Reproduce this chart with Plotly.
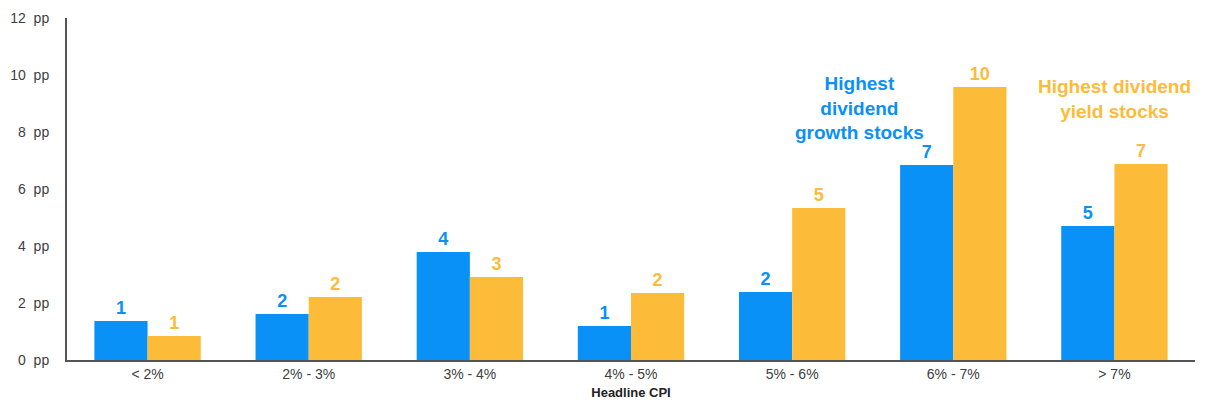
import plotly.graph_objects as go

categories = ["< 2%", "2% - 3%", "3% - 4%", "4% - 5%", "5% - 6%", "6% - 7%", "> 7%"]
growth = [1.37, 1.61, 3.79, 1.19, 2.39, 6.84, 4.70]
yield_ = [0.84, 2.21, 2.91, 2.35, 5.33, 9.58, 6.88]
y_ticks = [0, 2, 4, 6, 8, 10, 12]

BLUE = "#0A91F8"
ORANGE = "#FDBB3A"
FONT = "Arial, Liberation Sans, sans-serif"

fig = go.Figure()
fig.add_trace(go.Bar(x=categories, y=growth, marker_color=BLUE, marker_line_width=0,
                     text=[f"{v:.0f}" for v in growth], textposition="outside",
                     textfont=dict(color=BLUE, size=18, family=FONT, weight="bold"),
                     cliponaxis=False, name="Highest dividend growth stocks"))
fig.add_trace(go.Bar(x=categories, y=yield_, marker_color=ORANGE, marker_line_width=0,
                     text=[f"{v:.0f}" for v in yield_], textposition="outside",
                     textfont=dict(color=ORANGE, size=18, family=FONT, weight="bold"),
                     cliponaxis=False, name="Highest dividend yield stocks"))

fig.add_annotation(x=4.42, y=8.85, xref="x", yref="y", text="Highest<br>dividend<br>growth stocks",
                   showarrow=False, font=dict(color=BLUE, size=19, family=FONT, weight="bold"),
                   align="center", yanchor="middle")
fig.add_annotation(x=6.0, y=9.15, xref="x", yref="y", text="Highest dividend<br>yield stocks",
                   showarrow=False, font=dict(color=ORANGE, size=19, family=FONT, weight="bold"),
                   align="center", yanchor="middle")

fig.update_layout(
    width=1207, height=403,
    margin=dict(l=67, r=12, t=18, b=43, autoexpand=False),
    paper_bgcolor="white", plot_bgcolor="white",
    barmode="group", bargap=0.34, bargroupgap=0,
    showlegend=False,
    font=dict(family=FONT, color="#404040"),
)
fig.update_xaxes(showline=True, linecolor="#555555", linewidth=2, ticks="", automargin=False,
                 tickfont=dict(size=14, color="#404040"),
                 title=dict(text="<b>Headline CPI</b>", font=dict(size=13, color="#222222"), standoff=7))
fig.update_yaxes(range=[0, 12], tickvals=y_ticks, ticktext=[f"{t}  pp" for t in y_ticks],
                 showline=True, linecolor="#555555", linewidth=2, showgrid=False, zeroline=False,
                 automargin=False,
                 ticks="", tickfont=dict(size=14, color="#404040"), ticklabelstandoff=13)

fig.write_html("out.html")
